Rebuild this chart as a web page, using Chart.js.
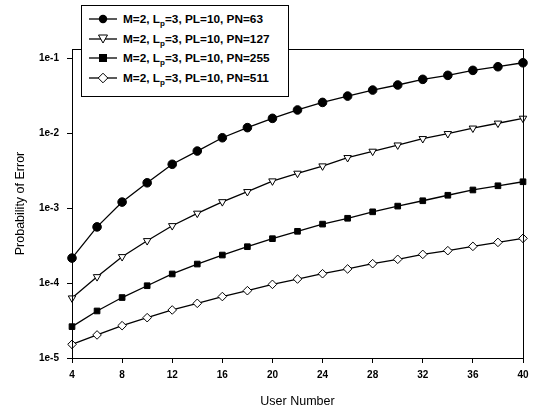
<!DOCTYPE html>
<html>
<head>
<meta charset="utf-8">
<script src="https://cdn.jsdelivr.net/npm/chart.js@4/dist/chart.umd.min.js"></script>
<style>
  html, body { margin: 0; padding: 0; background: #fff; }
  #wrap { position: relative; width: 542px; height: 415px; }
  #legend {
    position: absolute; left: 81px; top: 5px; width: 206px; height: 90px;
    border: 1px solid #000; background: #fff;
    font: bold 11.8px "Liberation Sans", Arial, sans-serif; color: #000;
  }
  .row { position: absolute; left: 0; height: 14px; display: flex; align-items: center; white-space: nowrap; }
  .row svg { margin-left: 7px; }
  .row span { margin-left: 6px; }
  .row sub { font-size: 8px; vertical-align: -3px; line-height: 0; }
</style>
</head>
<body>
<div id="wrap">
  <canvas id="chart" width="542" height="415"></canvas>
  <div id="legend"></div>
</div>
<script>
// 横軸（ユーザー数）と各系列の誤り率
const userNumbers = [4, 6, 8, 10, 12, 14, 16, 18, 20, 22, 24, 26, 28, 30, 32, 34, 36, 38, 40];
const pn63  = [2.15e-4, 5.6e-4, 1.2e-3, 2.17e-3, 3.83e-3, 5.75e-3, 8.65e-3, 0.0118, 0.0157, 0.0203,
               0.0256, 0.0311, 0.0374, 0.0437, 0.052, 0.0588, 0.0685, 0.0766, 0.0865];
const pn127 = [6.3e-5, 1.21e-4, 2.24e-4, 3.66e-4, 5.8e-4, 8.5e-4, 1.21e-3, 1.65e-3, 2.29e-3, 2.9e-3,
               3.63e-3, 4.69e-3, 5.7e-3, 6.9e-3, 8.4e-3, 9.8e-3, 0.0116, 0.0135, 0.0157];
const pn255 = [2.62e-5, 4.24e-5, 6.4e-5, 9.2e-5, 1.32e-4, 1.79e-4, 2.36e-4, 3.05e-4, 3.9e-4, 4.89e-4,
               6.1e-4, 7.3e-4, 8.9e-4, 1.06e-3, 1.25e-3, 1.48e-3, 1.74e-3, 1.98e-3, 2.24e-3];
const pn511 = [1.52e-5, 2.03e-5, 2.7e-5, 3.45e-5, 4.37e-5, 5.36e-5, 6.6e-5, 7.9e-5, 9.6e-5, 1.13e-4,
               1.33e-4, 1.54e-4, 1.81e-4, 2.07e-4, 2.41e-4, 2.7e-4, 3.08e-4, 3.48e-4, 3.94e-4];
const seriesPN = [63, 127, 255, 511];
const yTickValues = [1e-5, 1e-4, 1e-3, 1e-2, 1e-1];
const yTickLabels = ["1e-5", "1e-4", "1e-3", "1e-2", "1e-1"];

const FONT = '"Liberation Sans", Arial, sans-serif';

// 系列ごとのマーカー設定
const styles = [
    { pointStyle: "circle",   fill: "#000", rotation: 0 },
    { pointStyle: "triangle", fill: "#fff", rotation: 180 },
    { pointStyle: "rect",     fill: "#000", rotation: 0 },
    { pointStyle: "rectRot",  fill: "#fff", rotation: 0 },
];
const allSeries = [pn63, pn127, pn255, pn511];

const datasets = allSeries.map((vals, i) => ({
    label: "M=2, Lp=3, PL=10, PN=" + seriesPN[i],
    data: userNumbers.map((u, j) => ({ x: u, y: vals[j] })),
    borderColor: "#000",
    borderWidth: 1.3,
    pointStyle: styles[i].pointStyle,
    pointRotation: styles[i].rotation,
    pointRadius: i === 2 ? 4 : 4.3,
    pointBorderWidth: 1,
    pointBackgroundColor: styles[i].fill,
    pointBorderColor: "#000",
    tension: 0,
    clip: false,
}));

// プロット領域の枠線
const frame = {
    id: "frame",
    afterDraw(chart) {
        const { ctx, chartArea: a } = chart;
        ctx.save();
        ctx.strokeStyle = "#000";
        ctx.lineWidth = 1;
        ctx.strokeRect(a.left + 0.5, a.top + 0.5, a.right - a.left, a.bottom - a.top);
        ctx.restore();
    },
};

new Chart(document.getElementById("chart"), {
    type: "line",
    data: { datasets },
    plugins: [frame],
    options: {
        responsive: false,
        animation: false,
        layout: { padding: { top: 49, right: 19, left: 0, bottom: 0 } },
        plugins: { legend: { display: false }, tooltip: { enabled: false } },
        scales: {
            x: {
                type: "linear",
                min: 4,
                max: 40,
                ticks: { stepSize: 4, color: "#000", font: { family: FONT, size: 10, weight: "bold" }, padding: 6 },
                grid: { drawOnChartArea: false, color: "#000", tickLength: 5 },
                border: { color: "#000" },
                title: { display: true, text: "User Number", color: "#000", font: { family: FONT, size: 12.5 }, padding: { top: 0, bottom: 6 } },
                afterFit: (s) => { s.height = 57; },
            },
            y: {
                type: "logarithmic",
                min: 1e-5,
                max: 0.132,
                afterBuildTicks: (s) => { s.ticks = yTickValues.map((v) => ({ value: v })); },
                ticks: {
                    color: "#000",
                    font: { family: FONT, size: 10, weight: "bold" },
                    padding: 8,
                    callback: (v) => yTickLabels[yTickValues.findIndex((t) => Math.abs(t - v) / t < 1e-6)],
                },
                grid: { drawOnChartArea: false, color: "#000", tickLength: 5 },
                border: { color: "#000" },
                title: { display: true, text: "Probability of Error", color: "#000", font: { family: FONT, size: 12.5 }, padding: { top: 13, bottom: 0 } },
                afterFit: (s) => { s.width = 72; },
            },
        },
    },
});

// 凡例（下付き文字を使うため HTML で作る）
const markerSvg = [
    '<circle cx="14" cy="6" r="4.2" fill="#000"/>',
    '<polygon points="9.5,2 18.5,2 14,10" fill="#fff" stroke="#000" stroke-width="1"/>',
    '<rect x="10" y="2" width="8" height="8" fill="#000"/>',
    '<polygon points="14,1.2 18.8,6 14,10.8 9.2,6" fill="#fff" stroke="#000" stroke-width="1"/>',
];
const rowTops = [6, 26, 45, 65];
const legend = document.getElementById("legend");
seriesPN.forEach((pn, i) => {
    const row = document.createElement("div");
    row.className = "row";
    row.style.top = rowTops[i] + "px";
    row.innerHTML =
        '<svg width="28" height="12"><line x1="0" y1="6" x2="28" y2="6" stroke="#000" stroke-width="1.3"/>' +
        markerSvg[i] + "</svg>" +
        "<span>M=2, L<sub>p</sub>=3, PL=10, PN=" + pn + "</span>";
    legend.appendChild(row);
});
</script>
</body>
</html>
